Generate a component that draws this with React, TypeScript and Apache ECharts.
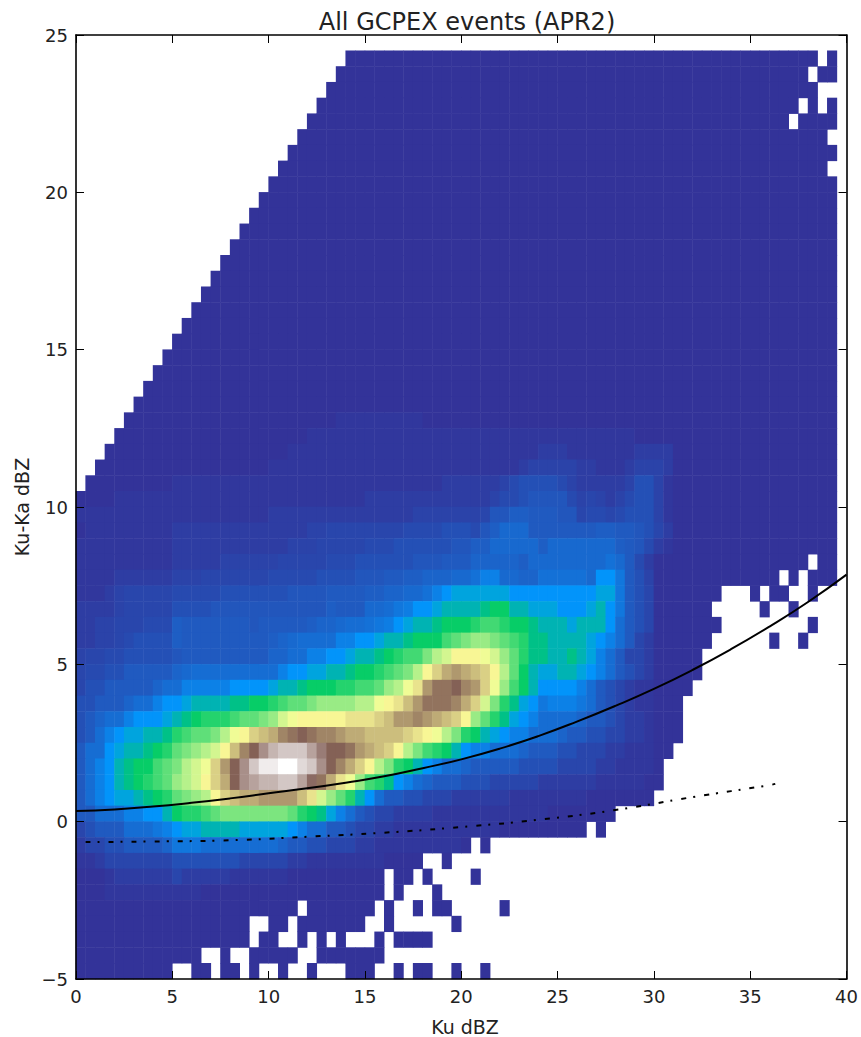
import React, { useEffect, useRef } from "react";
import * as echarts from "echarts";

// x / y bin labels (0.5 dBZ bins)
const KU_BINS: string[] = Array.from({ length: 80 }, (_, i) => String(i / 2));
const KUKA_BINS: string[] = Array.from({ length: 60 }, (_, i) => String(i / 2 - 5));
const X_TICKS = [0, 5, 10, 15, 20, 25, 30, 35, 40];
const Y_TICKS = [-5, 0, 5, 10, 15, 20, 25];

// 2-D histogram. Top line is Ku-Ka 24.0..24.5, each next line 0.5 lower.
// '.' = no data, 0-9 a-z = level 0..35, capitals = the fractional levels listed below
const CELL_ROWS: string[] = [
  ".......... .......... ........00 0000000000 0000000000 0000000000 0000000000 0000000.0.",
  ".......... .......... .......000 0000000000 0000000000 0000000000 0000000000 000000.00.",
  ".......... .......... ......0000 0000000000 0000000000 0000000000 0000000000 0000000...",
  ".......... .......... .....00000 0000000000 0000000000 0000000000 0000000000 00000.0.0.",
  ".......... .......... ....000000 0000000000 0000000000 0000000000 0000000000 0000.0000.",
  ".......... .......... ...0000000 0000000000 0000000000 0000000000 0000000000 00000000..",
  ".......... .......... ..00000000 0000000000 0000000000 0000000000 0000000000 000000000.",
  ".......... .......... .000000000 0000000000 0000000000 0000000000 0000000000 00000000..",
  ".......... .......... 0000000000 0000000000 0000000000 0000000000 0000000000 000000000.",
  ".......... .........0 0000000000 0000000000 0000000000 0000000000 0000000000 000000000.",
  ".......... ........00 0000000000 0000000000 0000000000 0000000000 0000000000 000000000.",
  ".......... .......000 0000000000 0000000000 0000000000 0000000000 0000000000 000000000.",
  ".......... ......0000 0000000000 0000000000 0000000000 0000000000 0000000000 000000000.",
  ".......... .....00000 0000000000 0000000000 0000000000 0000000000 0000000000 000000000.",
  ".......... ....000000 0000000000 0000000000 0000000000 0000000000 0000000000 000000000.",
  ".......... ...0000000 0000000000 0000000000 0000000000 0000000000 0000000000 000000000.",
  ".......... ..00000000 0000000000 0000000000 0000000000 0000000000 0000000000 000000000.",
  ".......... .000000000 0000000000 0000000000 0000000000 0000000000 0000000000 000000000.",
  ".......... 0000000000 0000000000 0000000000 0000000000 0000000000 0000000000 000000000.",
  ".........0 0000000000 0000000000 0000000000 0000000000 0000000000 0000000000 000000000.",
  "........00 0000000000 0000000000 0000000000 0000000000 0000000000 0000000000 000000000.",
  ".......000 0000000000 0000000000 0000000000 0000000000 0000000000 0000000000 000000000.",
  "......0000 0000000000 0000000000 0000000000 0000000000 0000000000 0000000000 000000000.",
  ".....00000 0000000000 0000000AAA AAAAAA0000 0000000000 0000000000 0000000000 000000000.",
  "....000000 0000000000 0000AAAAAA AAAAAAAAAA AAAAAAAAAA AAAAAAAA00 0000000000 000000000.",
  "...0000000 0000000000 00AAAAAAAA AAAAAAAAAA AAAAAAAABB BAAAAAAABB BB00000000 000000000.",
  "..00000000 0000000000 AAAAAAAAAA AAAAAAAAAA AAAAAABFFF FFBBAAABFF FB00000000 000000000.",
  ".000000000 AAAAAAAAAA AAAAAAAAAA AAAAAAAABB BBBBFGCCCC GFBBBBBFCC FA00000000 000000000.",
  "0000AAAAAA AAAAAAAAAA AAAAAAAAAA BBBBBBBBBB BBBFGGCHHH HGF1FBFGCC FA00000000 000000000.",
  "AAAAAAAAAA AAAAAAAAAA BBBBBBBBBB BBBBBFFFFF FF1HHII222 HH1GG1GCCC FA00000000 000000000.",
  "0AAAAAAAAA BBBBBBBBBB BBBBFF1111 1111GGGGCC CGHIJJJ222 2222II22HC 1B00000000 000000000.",
  "AAAAAAAAAA BBBBBBBBBB BBFFF11111 GGGCCCCCCH HIIJJJJJIJ JJJJJJI2HG BA00000000 000000000.",
  "AAAAAAAAAA BBBBBFFFFF F11111GGGC CCCCCHHH22 2DDDDDIJJJ JJJJJKJ2GB 0000000000 000000.00.",
  "AAAABBBBBB FFF1111111 GGGGGCCCCH HH22IIDDDJ JK44JJDDKK KKKJ55E2CF 0000000000 000.0.000.",
  "AAABF11111 GGGGGCCCCC CCHHHH2222 IIDDJJK456 6666655555 555566E2C1 0000000... 0.00..0...",
  "BBBBF11111 CCCCHHHHHH HHHHHHI222 JJ3EL55677 7789977666 555675E2C1 000000.... .0..0.....",
  "BBFF111GGG I2222222H2 2222IDDJ33 KEL5677899 9abba99877 76777532C1 0000000... ......0...",
  "BBFF1GCCCC I222222222 IDJ3333445 56778999bc deedcba887 777654321B 000000.... ..0..0....",
  "F11GGCCCCC H222222222 DD33445567 789abbdfgi iihgeca887 787643211B 00000..... ..........",
  "1GGCC22222 DJ33333333 3455667789 9abcdfikmn mlkifc9766 7765432C1B 00000..... ..........",
  "1CC22222D3 3444445555 6778999aab bcefhjnppq onkheb9755 55432C1BAA 0000...... ..........",
  "CC222D3345 5677778899 abccdeeeef fhijlnpppo mkgda865E4 44E32C1BAA 000....... ..........",
  "C2D3345556 789aaabccd eghiiiiijj jklnnonmlk ieca865433 33D22C1BBA 000....... ..........",
  "C234566778 abccdfhikl mopqpoonmm llllkjihfd a976544333 D22CC11BBA 000....... ..........",
  "233567789a cdefgiloqt vwwwusqqpn mlkifdba97 544333D222 CC111BBAAA 00........ ..........",
  "23457899bc dfghknqtwy yzzxwtqomk ifda975433 D22222CCCC 1111BBAAAA 0......... ..........",
  "2345789abc efgikmqtuv vwwurpmjhe ba8543D222 CCC11111BB BBBBAAAAA0 0......... ..........",
  "234566789a cdefiklmmn nnnljgeca7 5322CC111B BBBBBAAAAA AAA0000000 .......... ..........",
  "2233344557 9aabcddddd ddca986432 C11BBBBAAA AAAAAAAAA0 000000.... .......... ..........",
  "1C222333E4 5667777666 66543322C1 1BBAAAAAAA AAAA000000 000.0..... .......... ..........",
  "B11CC2222D EEE3333333 3D22CC111B BAAAAAAAAA 0.0....... .......... .......... ..........",
  "AAB1111111 CCCCCCC111 11BBAAAAAA AA0000..0. .......... .......... .......... ..........",
  "000ABBBBBB 1BBBBBAAAA AA00000000 00.00.0... .0........ .......... .......... ..........",
  "000AAAAAAA AAA0000000 0000000000 00.0...0.. .......... .......... .......... ..........",
  "0000000000 0000000000 000.000000 0.0..0.00. ....0..... .......... .......... ..........",
  "0000000000 00000000.. 00.0000000 ..0......0 .......... .......... .......... ..........",
  "0000000000 00000000.0 0..0.0.0.. .0.0000... .......... .......... .......... ..........",
  "0000000000 000..0..00 000..00000 00........ .......... .......... .......... ..........",
  "0000000000 ..00.00.0. .0..0...00 0..0.00..0 ..0....... .......... .......... ..........",
];

const FINE_LEVELS: Record<string, number> = {
  A: 0.2, B: 0.5, F: 0.8, G: 1.2, C: 1.5, H: 1.8, I: 2.2, D: 2.5, J: 2.8, K: 3.2, E: 3.5, L: 3.8,
};

// Fitted curves
const FIT_X = [0, 2, 4, 6, 8, 10, 12, 14, 16, 18, 20, 22, 24, 26, 28, 30, 32, 34, 36, 38, 40];
const FIT_Y = [0.34, 0.39, 0.48, 0.6, 0.74, 0.9, 1.06, 1.24, 1.44, 1.7, 1.98, 2.32, 2.72, 3.18, 3.68, 4.22, 4.82, 5.48, 6.2, 6.98, 7.85];
const DASH_X = [0.5, 4, 8, 12, 16, 20, 24, 28, 32, 36, 36.3];
const DASH_Y = [-0.65, -0.63, -0.59, -0.48, -0.35, -0.17, 0.06, 0.37, 0.78, 1.16, 1.2];

// matplotlib "terrain" colour map anchor points
const TERRAIN: [number, number, number, number][] = [
  [0, 0.2, 0.2, 0.6],
  [0.15, 0, 0.6, 1],
  [0.25, 0, 0.8, 0.4],
  [0.5, 1, 1, 0.6],
  [0.75, 0.5, 0.36, 0.33],
  [1, 1, 1, 1],
];

function terrainColors(): string[] {
  const out: string[] = [];
  for (let i = 0; i <= 20; i++) {
    const t = i / 20;
    let k = 0;
    while (k < TERRAIN.length - 2 && t > TERRAIN[k + 1][0]) k++;
    const a = TERRAIN[k];
    const b = TERRAIN[k + 1];
    const f = (t - a[0]) / (b[0] - a[0]);
    const c = [1, 2, 3].map((j) => Math.round(255 * (a[j] + (b[j] - a[j]) * f)));
    out.push(`rgb(${c[0]},${c[1]},${c[2]})`);
  }
  return out;
}

function cells(): [number, number, number][] {
  const out: [number, number, number][] = [];
  CELL_ROWS.forEach((row, r) => {
    const chars = row.replace(/ /g, "");
    const yi = 58 - r;
    for (let xi = 0; xi < chars.length; xi++) {
      const ch = chars[xi];
      if (ch === ".") continue;
      const v = ch in FINE_LEVELS ? FINE_LEVELS[ch] : parseInt(ch, 36);
      out.push([xi, yi, v]);
    }
  });
  return out;
}

const FONT = "DejaVu Sans";
const TICK_FONT = 18;
const INK = "#000";

export default function App() {
  const ref = useRef<HTMLDivElement>(null);
  useEffect(() => {
    document.body.style.margin = "0";
    document.body.style.background = "#fff";
    const chart = echarts.init(ref.current!, null, { renderer: "svg" });
    const grid = { left: 76, top: 35, width: 772, height: 944 };
    const valueX = (position: "bottom" | "top", labels: boolean) => ({
      type: "value" as const,
      position,
      min: 0,
      max: 40,
      interval: 5,
      z: 10,
      axisLine: { show: true, onZero: false, lineStyle: { color: INK, width: 1.6 } },
      axisTick: { show: true, inside: true, length: 8, lineStyle: { color: INK, width: 1 } },
      splitLine: { show: false },
      axisLabel: labels
        ? {
            show: true,
            color: "#222",
            fontFamily: FONT,
            fontSize: TICK_FONT,
            margin: 8,
            showMinLabel: true,
            showMaxLabel: true,
            customValues: X_TICKS,
          }
        : { show: false },
    });
    const valueY = (position: "left" | "right", labels: boolean) => ({
      type: "value" as const,
      position,
      min: -5,
      max: 25,
      interval: 5,
      z: 10,
      axisLine: { show: true, onZero: false, lineStyle: { color: INK, width: 1.6 } },
      axisTick: { show: true, inside: true, length: 8, lineStyle: { color: INK, width: 1 } },
      splitLine: { show: false },
      axisLabel: labels
        ? {
            show: true,
            color: "#222",
            fontFamily: FONT,
            fontSize: TICK_FONT,
            margin: 8,
            showMinLabel: true,
            showMaxLabel: true,
            customValues: Y_TICKS,
            formatter: (v: number) => String(v).replace("-", "\u2212"),
          }
        : { show: false },
    });
    chart.setOption({
      animation: false,
      backgroundColor: "#fff",
      title: {
        text: "All GCPEX events (APR2)",
        left: 462,
        top: 5,
        textAlign: "center",
        textStyle: { fontFamily: FONT, fontSize: 24, fontWeight: "normal", color: "#222" },
      },
      grid,
      xAxis: [
        valueX("bottom", true),
        valueX("top", false),
        { type: "category", data: KU_BINS, show: false, boundaryGap: true },
      ],
      yAxis: [
        valueY("left", true),
        valueY("right", false),
        { type: "category", data: KUKA_BINS, show: false, boundaryGap: true },
      ],
      visualMap: {
        type: "continuous",
        show: false,
        seriesIndex: 0,
        min: 0,
        max: 35,
        dimension: 2,
        inRange: { color: terrainColors() },
      },
      series: [
        {
          type: "heatmap",
          xAxisIndex: 2,
          yAxisIndex: 2,
          data: cells(),
          progressive: 0,
          z: 1,
          itemStyle: { borderWidth: 0, opacity: 1 },
          emphasis: { disabled: true },
          silent: true,
        },
        {
          type: "line",
          xAxisIndex: 0,
          yAxisIndex: 0,
          data: FIT_X.map((x, i) => [x, FIT_Y[i]]),
          smooth: true,
          symbol: "none",
          z: 5,
          lineStyle: { color: "#000", width: 2 },
        },
        {
          type: "line",
          xAxisIndex: 0,
          yAxisIndex: 0,
          data: DASH_X.map((x, i) => [x, DASH_Y[i]]),
          smooth: true,
          symbol: "none",
          z: 5,
          lineStyle: { color: "#000", width: 2, type: [5, 7, 2, 9] },
        },
      ],
      graphic: [
        {
          type: "text",
          x: 465,
          y: 1027,
          style: {
            text: "Ku dBZ",
            align: "center",
            verticalAlign: "middle",
            font: `19px "${FONT}"`,
            fill: "#222",
          },
        },
        {
          type: "text",
          x: 22,
          y: 507,
          rotation: Math.PI / 2,
          style: {
            text: "Ku-Ka dBZ",
            align: "center",
            verticalAlign: "middle",
            font: `19px "${FONT}"`,
            fill: "#222",
          },
        },
      ],
    });
    return () => chart.dispose();
  }, []);
  return <div ref={ref} style={{ width: 861, height: 1037 }} />;
}
